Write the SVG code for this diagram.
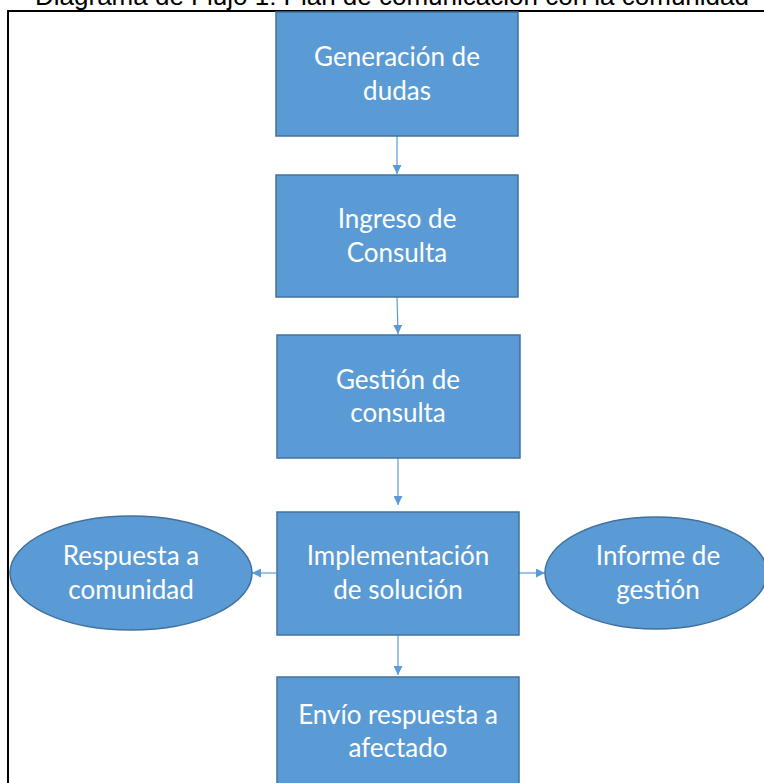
<svg xmlns="http://www.w3.org/2000/svg" width="764" height="783" viewBox="0 0 764 783">
<defs>
<style>
.box{fill:#5B9BD5;stroke:#41719C;stroke-width:1.5}
.lbl{font-family:Lato,"Open Sans","Liberation Sans",sans-serif;font-size:26px;fill:#FFFFFF;text-anchor:middle}
.conn{stroke:#5B9BD5;stroke-width:1.2;fill:none;marker-end:url(#ah)}
.title{font-family:"Liberation Sans",Arial,sans-serif;font-size:26px;fill:#000000;text-anchor:middle}
</style>
<marker id="ah" viewBox="0 0 10 10" refX="10" refY="5" markerWidth="9" markerHeight="9" markerUnits="userSpaceOnUse" orient="auto">
<path d="M0,0 L10,5 L0,10 Z" fill="#5B9BD5"/>
</marker>
</defs>
<rect width="764" height="783" fill="#FFFFFF"/>
<text class="title" x="392" y="5">Diagrama de Flujo 1: Plan de comunicación con la comunidad</text>
<path d="M8,783 L8,11 L764,11" fill="none" stroke="#000000" stroke-width="2"/>
<g id="connectors">
<line class="conn" x1="397" y1="136" x2="397" y2="174"/>
<line class="conn" x1="397" y1="297" x2="398" y2="334"/>
<line class="conn" x1="398" y1="458" x2="398" y2="505"/>
<line class="conn" x1="398" y1="635" x2="398" y2="675"/>
<line class="conn" x1="276" y1="573" x2="252" y2="573"/>
<line class="conn" x1="519" y1="573" x2="545" y2="573"/>
</g>
<g id="n1">
<rect class="box" x="276" y="12" width="242" height="124"/>
<text class="lbl" x="397" y="66">Generación de</text>
<text class="lbl" x="397" y="100">dudas</text>
</g>
<g id="n2">
<rect class="box" x="276" y="175" width="242" height="122"/>
<text class="lbl" x="397" y="228">Ingreso de</text>
<text class="lbl" x="397" y="262">Consulta</text>
</g>
<g id="n3">
<rect class="box" x="277" y="335" width="243" height="123"/>
<text class="lbl" x="398" y="389">Gestión de</text>
<text class="lbl" x="398" y="422">consulta</text>
</g>
<g id="n4">
<rect class="box" x="277" y="512" width="242" height="123"/>
<text class="lbl" x="398" y="565">Implementación</text>
<text class="lbl" x="398" y="599">de solución</text>
</g>
<g id="n5">
<rect class="box" x="277" y="677" width="242" height="123"/>
<text class="lbl" x="398" y="724">Envío respuesta a</text>
<text class="lbl" x="398" y="757">afectado</text>
</g>
<g id="n6">
<ellipse class="box" cx="131" cy="573" rx="121" ry="57"/>
<text class="lbl" x="131" y="565">Respuesta a</text>
<text class="lbl" x="131" y="599">comunidad</text>
</g>
<g id="n7">
<ellipse class="box" cx="656" cy="573" rx="111" ry="56"/>
<text class="lbl" x="658" y="565">Informe de</text>
<text class="lbl" x="658" y="599">gestión</text>
</g>
</svg>
